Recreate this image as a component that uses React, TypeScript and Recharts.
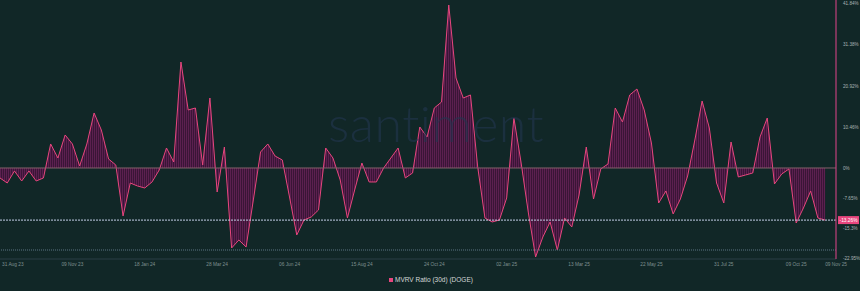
import React from 'react'
import { AreaChart, Area, XAxis, YAxis, ReferenceLine } from 'recharts'

// MVRV ratio (30d) for DOGE, one point per week, in %
const mvrv = [
  -2.54, -3.82, -0.76, -3.31, -0.76, -3.31, -2.54, 6.11, 2.54, 8.4,
  6.11, 0.51, 6.11, 14.0, 9.67, 2.29, 0.76, -12.21, -3.82, -4.58,
  -5.09, -3.56, -0.51, 5.09, 1.53, 26.97, 14.76, 15.27, 0.76, 17.81,
  -6.11, 5.34, -20.36, -18.32, -20.1, -8.14, 4.07, 6.11, 3.05, 2.04,
  -7.38, -17.05, -13.23, -12.47, -10.69, 5.09, 2.54, -3.05, -12.72, -5.6,
  1.27, -3.56, -3.56, 0, 2.54, 5.09, -2.54, -1.27, 10.43, 7.89,
  15.27, 16.79, 41.48, 22.9, 17.81, 18.58, 0.25, -12.72, -13.74, -13.23,
  -7.63, 12.72, 1.27, -11.45, -22.65, -17.56, -13.74, -20.87, -12.72, -15.01,
  -6.87, 5.34, -7.89, -0.25, 1.02, 15.27, 11.7, 18.58, 20.1, 14.76,
  6.36, -8.91, -5.85, -11.7, -7.89, -2.04, 7.12, 17.05, 10.18, -3.82,
  -8.91, 6.62, -2.29, -1.78, -1.27, 7.89, 12.72, -4.07, -1.53, -0.25,
  -14.0, -10.18, -5.85, -12.72, -13.26,
]

const xTickIndex = [0, 10, 20, 30, 40, 50, 60, 70, 80, 90, 100, 110, 114]
const xTickLabels = [
  '31 Aug 23', '09 Nov 23', '18 Jan 24', '28 Mar 24', '06 Jun 24', '15 Aug 24',
  '24 Oct 24', '02 Jan 25', '13 Mar 25', '22 May 25', '31 Jul 25', '09 Oct 25', '09 Nov 25',
]

const yTickValues = [41.84, 31.38, 20.92, 10.46, 0, -7.65, -15.3, -22.95]
const yTickLabels = ['41.84%', '31.38%', '20.92%', '10.46%', '0%', '-7.65%', '-15.3%', '-22.95%']

const currentValue = -13.26
const lowLine = -20.87

const data = mvrv.map((v, i) => ({ i, v }))

const FONT = '"Liberation Sans", Arial, sans-serif'
const PINK = '#e8467e'

function XTick(props: any) {
  const { x, y, payload } = props
  const k = xTickIndex.indexOf(payload.value)
  const first = k === 0
  const last = k === xTickIndex.length - 1
  return (
    <text
      x={first ? x + 2 : x}
      y={y + 5}
      textAnchor={first || last ? 'start' : 'middle'}
      fontSize={4.8}
      fontFamily={FONT}
      fill="#7f9090"
    >
      {xTickLabels[k]}
    </text>
  )
}

function YTick(props: any) {
  const { x, y, payload } = props
  if (payload.value === currentValue) {
    return (
      <g>
        <rect x={x - 5} y={y - 4} width={21} height={8} fill={PINK} />
        <text x={x + 5.5} y={y + 1.8} textAnchor="middle" fontSize={4.8} fontFamily={FONT} fill="#ffffff">
          {currentValue.toFixed(2)}%
        </text>
      </g>
    )
  }
  const k = yTickValues.indexOf(payload.value)
  return (
    <text x={x} y={y + 1.8} textAnchor="start" fontSize={4.6} fontFamily={FONT} fill="#a9b4b4">
      {yTickLabels[k]}
    </text>
  )
}

export default function App() {
  return (
    <div style={{ position: 'fixed', left: 0, top: 0, width: 860, height: 291, background: '#112727', overflow: 'hidden' }}>
      <AreaChart width={860} height={291} data={data} margin={{ top: 0, right: 0, bottom: 0, left: 0 }}>
        <defs>
          <pattern id="mvrvStripes" width="2" height="8" patternUnits="userSpaceOnUse">
            <rect width="2" height="8" fill="#3a1536" />
            <rect width="1" height="8" fill="#5c2050" />
          </pattern>
        </defs>
        <XAxis
          dataKey="i"
          type="number"
          domain={[0, 115.5]}
          ticks={xTickIndex}
          interval={0}
          height={32}
          tickSize={0}
          tickMargin={2}
          tick={<XTick />}
          axisLine={{ stroke: '#2b3f46' }}
          tickLine={false}
        />
        <YAxis
          orientation="right"
          type="number"
          domain={[-23.16, 42.75]}
          ticks={[...yTickValues, currentValue]}
          interval={0}
          width={24}
          tickSize={0}
          tickMargin={7}
          tick={<YTick />}
          axisLine={{ stroke: '#c2407c', strokeWidth: 1.2 }}
          tickLine={false}
        />
        <ReferenceLine y={0} stroke="#84606c" segment={[{ x: 0, y: 0 }, { x: 114, y: 0 }]} />
        <ReferenceLine
          y={lowLine}
          stroke="#5d7583"
          strokeDasharray="1 1"
          segment={[{ x: 0, y: lowLine }, { x: 114, y: lowLine }]}
        />
        <Area
          type="linear"
          dataKey="v"
          baseValue={0}
          stroke={PINK}
          strokeWidth={1}
          fill="url(#mvrvStripes)"
          fillOpacity={1}
          dot={false}
          activeDot={false}
          isAnimationActive={false}
        />
        <ReferenceLine
          y={currentValue}
          stroke="#c4cfe8"
          strokeDasharray="2 1"
          segment={[{ x: 0, y: currentValue }, { x: 114, y: currentValue }]}
        />
      </AreaChart>
      <div
        style={{
          position: 'absolute', left: 328, top: 93, fontFamily: 'Lato, sans-serif', fontWeight: 300,
          fontSize: 50, color: '#223650', opacity: 0.6, pointerEvents: 'none', letterSpacing: 0.5,
        }}
      >
        santiment
      </div>
      <div
        style={{
          position: 'absolute', left: 389, top: 276, display: 'flex', alignItems: 'center',
          fontFamily: FONT, fontSize: 6.5, color: '#d4d8d8',
        }}
      >
        <span style={{ width: 4, height: 4, background: PINK, marginRight: 2, display: 'inline-block' }} />
        MVRV Ratio (30d) (DOGE)
      </div>
    </div>
  )
}
